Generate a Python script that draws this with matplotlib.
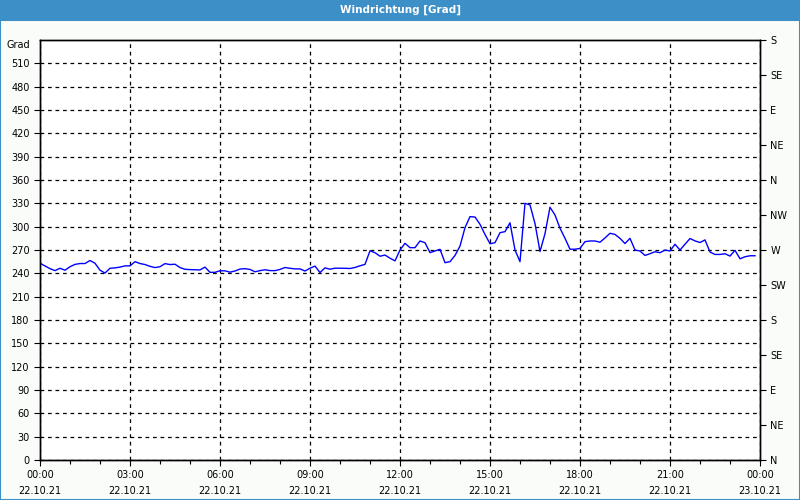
import matplotlib
matplotlib.use("Agg")
import matplotlib.pyplot as plt
import matplotlib.dates as mdates
from matplotlib.patches import Rectangle
import pandas as pd

title = "Windrichtung [Grad]"
y_unit = "Grad"
start = "2021-10-22 00:00"
end = "2021-10-23 00:00"

values = [
    253, 249.5, 246, 243.5, 246.5, 244, 248.5, 251.5, 252.6, 252.6, 256.5, 253,
    244, 240.4, 246.5, 247, 248, 249.6, 249.6, 255, 252.6, 251.3, 249, 247.4,
    248.5, 252.5, 251.3, 251.7, 247.4, 245.2, 244.8, 244.6, 244.4, 248, 241.3, 241.3,
    243.3, 243.2, 241.5, 243, 245.5, 246, 245, 242, 243.5, 244.6, 243.5, 243.5,
    245, 247.5, 246.5, 245.7, 245.7, 243, 246.6, 249.3, 241, 247, 245.3, 246.6,
    246.6, 246.5, 246.2, 247.5, 249.7, 251.5, 269, 266.5, 262, 263.5, 259.5, 256,
    270, 278.6, 273, 273, 281.6, 279.4, 266.6, 268.7, 270.9, 253.7, 255, 263,
    275, 298.7, 312.9, 312.4, 303, 290, 278, 279.4, 292.3, 293.6, 305, 270,
    255, 330, 328, 304, 268, 291, 325, 315, 298, 285, 271, 271,
    272, 280.7, 281.6, 281.6, 280, 285.5, 291.5, 290, 285, 278.3, 285, 270,
    268.7, 263, 265.2, 267.8, 266.5, 270, 268.7, 277.4, 270, 277.4, 284.8, 281.7,
    279.6, 283, 267.4, 264.3, 264.3, 265.2, 262.2, 269.6, 258.7, 261.3, 262.6, 262.6,
]
times = pd.date_range(start, periods=len(values), freq="10min")

left_ticks = list(range(0, 511, 30))
right_ticks = [0, 45, 90, 135, 180, 225, 270, 315, 360, 405, 450, 495, 540]
right_labels = ["N", "NE", "E", "SE", "S", "SW", "W", "NW", "N", "NE", "E", "SE", "S"]

bg = "#fafcfa"
blue_bar = "#3d8fc7"

fig = plt.figure(figsize=(8, 5), dpi=100, facecolor=bg)
# title bar and border
fig.patches.append(Rectangle((0, 0.96), 1, 0.04, transform=fig.transFigure,
                             facecolor=blue_bar, edgecolor="none", zorder=0))
fig.patches.append(Rectangle((0.0006, 0.001), 0.9988, 0.96, transform=fig.transFigure,
                             facecolor="none", edgecolor=blue_bar, linewidth=1.5, zorder=0))
fig.text(0.5, 0.98, title, color="white", fontsize=7.5, fontweight="bold",
         ha="center", va="center")

ax = fig.add_axes([0.05, 0.08, 0.90, 0.84])
ax.set_facecolor("white")
ax.plot(times, values, color="#0000ff", linewidth=1)

ax.set_xlim(pd.Timestamp(start), pd.Timestamp(end))
ax.set_ylim(0, 540)
ax.set_yticks(left_ticks)
ax.xaxis.set_major_locator(mdates.HourLocator(byhour=range(0, 24, 3)))
ax.xaxis.set_minor_locator(mdates.HourLocator())
ax.xaxis.set_major_formatter(mdates.DateFormatter("%H:%M\n%d.%m.%y"))

ax.grid(True, which="major", color="black", linestyle=(0, (3, 3)), linewidth=0.9)
ax.tick_params(axis="both", which="major", labelsize=7, length=4, width=0.8,
               direction="out", color="black")
ax.tick_params(axis="x", which="minor", length=3, width=0.8)
ax.tick_params(axis="x", pad=3)
for lbl in ax.get_xticklabels():
    lbl.set_linespacing(1.75)
for s in ax.spines.values():
    s.set_color("black")
    s.set_linewidth(1)

ax2 = ax.twinx()
ax2.set_ylim(0, 540)
ax2.set_yticks(right_ticks)
ax2.set_yticklabels(right_labels)
ax2.tick_params(axis="y", labelsize=7, length=4, width=0.8, direction="out")
for s in ax2.spines.values():
    s.set_color("black")
    s.set_linewidth(1)

fig.text(0.038, 0.911, y_unit, fontsize=7, ha="right", va="center")

fig.savefig("out.png", dpi=100, facecolor=bg)
